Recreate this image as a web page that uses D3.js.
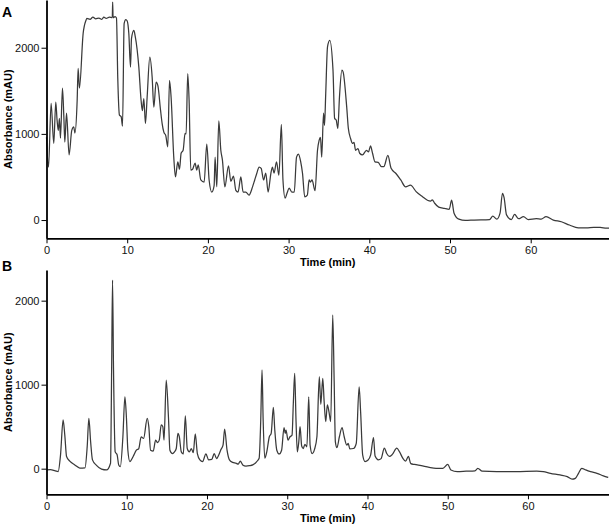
<!DOCTYPE html>
<html><head><meta charset="utf-8">
<script src="https://cdn.jsdelivr.net/npm/d3@7"></script>
<style>
html,body{margin:0;padding:0;background:#fff;}
svg{display:block;font-family:"Liberation Sans",Arial,sans-serif;}
</style></head>
<body><svg id="c" width="609" height="527"></svg>
<script>
// ---- Data ----
const xTicks = [0, 10, 20, 30, 40, 50, 60];
const yTicks = [0, 1000, 2000];
const panelLabels = ["A", "B"];
const xTitle = "Time (min)";
const yTitle = "Absorbance (mAU)";

const timeA = [0.0,0.25,0.57,0.9,1.15,1.31,1.46,1.6,1.73,1.98,2.15,2.27,2.48,2.8,3.13,3.38,3.52,3.8,3.92,4.08,4.54,4.9,5.0,5.4,5.75,6.1,6.5,6.85,7.1,7.4,7.8,8.15,8.2,8.25,8.5,8.67,8.83,9.04,9.25,9.42,9.62,9.83,10.0,10.2,10.41,10.53,10.82,11.0,11.44,11.72,11.88,12.06,12.26,12.47,12.8,13.09,13.3,13.58,13.8,14.13,14.33,14.54,14.78,15.03,15.24,15.44,15.77,15.98,16.27,16.48,16.68,16.93,17.17,17.3,17.5,17.67,17.88,18.1,18.41,18.62,18.8,19.12,19.53,19.86,20.15,20.48,20.77,20.89,21.1,21.35,21.6,21.8,22.1,22.55,22.84,23.17,23.46,23.74,24.08,24.36,24.7,25.1,25.53,25.8,26.05,26.35,26.6,26.9,27.17,27.46,27.8,28.0,28.2,28.5,28.8,29.1,29.3,29.57,29.8,30.06,30.4,30.7,30.98,31.22,31.5,31.72,32.0,32.32,32.54,32.7,32.9,33.28,33.58,33.78,33.95,34.1,34.33,34.45,34.6,34.82,35.1,35.5,35.7,35.9,36.1,36.3,36.6,36.75,37.2,37.4,37.7,37.9,38.1,38.3,38.6,38.8,39.15,39.65,39.9,40.15,40.4,40.7,41.1,41.5,41.8,42.3,42.7,43.3,43.9,44.5,45.1,45.8,46.6,47.2,47.6,47.8,48.1,48.6,49.3,49.9,50.2,50.5,51.1,51.9,53.0,54.9,55.3,55.8,56.2,56.5,56.7,57.0,57.6,58.0,58.5,59.1,59.7,60.7,61.3,61.9,62.8,63.8,64.8,65.9,66.9,67.8,68.6,69.4,69.7];
const absA = [960,615,1355,890,1370,1160,1040,1180,950,1530,1195,905,1240,755,1040,1080,1010,1390,1760,1530,2165,2320,2340,2330,2355,2335,2345,2330,2355,2340,2355,2350,2530,2350,2360,2345,1650,1217,1200,1090,2280,2325,2310,2165,1775,2105,2200,2130,1775,1390,1270,1410,1120,1425,1890,1660,1310,1600,1560,1275,1120,1020,980,850,1620,1425,730,500,675,590,775,810,1005,1000,1700,1390,580,590,660,580,640,465,440,880,465,325,400,730,385,1150,810,695,385,630,450,510,345,325,500,325,325,290,385,465,540,615,600,465,545,325,540,615,545,675,520,1110,465,255,310,370,325,325,730,765,675,545,270,290,465,440,465,340,810,925,960,730,1240,1100,1470,2010,2085,1740,1180,1160,1065,1425,1740,1720,1310,1065,940,890,900,810,830,775,755,810,790,860,775,675,670,620,620,750,600,540,465,385,405,330,270,230,220,235,195,150,135,125,230,80,10,-5,0,5,45,10,80,310,260,60,5,65,15,40,5,15,10,40,0,-20,-58,-90,-90,-85,-85,-95,-95];

const timeB = [0.0,0.5,1.1,1.45,1.75,2.07,2.28,2.5,2.9,3.53,4.15,4.8,5.07,5.28,5.5,5.73,6.23,6.86,7.48,7.98,8.12,8.23,8.35,8.56,8.8,9.0,9.2,9.52,9.77,9.96,10.14,10.39,10.8,11.2,11.5,11.8,12.1,12.55,12.75,12.97,13.3,13.6,13.85,14.05,14.3,14.5,14.65,14.92,15.2,15.38,15.7,15.95,16.17,16.38,16.55,16.8,17.05,17.3,17.54,17.8,18.05,18.29,18.54,18.8,19.12,19.45,19.87,20.2,20.6,20.9,21.2,21.45,21.7,22.0,22.2,22.5,22.8,23.2,23.6,23.9,24.15,24.45,24.86,25.3,25.7,26.2,26.5,26.7,26.86,27.0,27.2,27.45,27.77,28.0,28.27,28.45,28.7,29.0,29.3,29.6,29.75,29.85,30.1,30.35,30.6,30.76,30.93,31.1,31.26,31.45,31.6,31.8,32.0,32.2,32.45,32.68,32.85,33.1,33.4,33.7,34.0,34.18,34.43,34.6,34.8,35.0,35.2,35.42,35.67,35.85,36.0,36.2,36.5,36.83,37.1,37.42,37.6,37.8,38.25,38.6,38.96,39.15,39.4,39.7,40.05,40.4,40.75,40.95,41.35,41.7,42.1,42.4,42.73,43.1,43.65,44.0,44.4,44.75,45.1,45.4,45.85,46.7,47.7,48.55,49.4,50.0,50.4,51.2,52.3,53.4,53.75,54.3,56.1,58.5,61.1,61.9,62.8,64.0,64.9,65.5,65.9,66.3,66.7,67.2,67.8,68.6,69.4,70.0];
const absB = [-15,-12,-27,-35,165,580,400,145,90,45,8,10,260,600,320,105,40,-5,-15,65,1200,2245,1200,200,165,45,25,380,855,610,220,85,145,220,240,380,360,600,500,220,210,340,310,340,520,500,340,1055,610,220,180,200,240,420,380,200,175,630,240,200,240,190,415,180,105,85,175,105,110,180,120,160,220,280,470,220,105,75,65,55,90,45,30,35,45,85,125,580,1175,580,125,200,380,420,730,460,220,175,220,490,420,460,340,380,400,780,1135,560,200,330,500,270,240,290,260,855,280,180,230,380,1095,765,1075,800,560,760,680,560,1830,1040,320,250,380,490,380,280,300,235,240,300,975,670,165,85,100,165,370,150,105,120,245,180,145,170,245,200,125,90,145,60,50,35,15,5,5,50,-15,-35,-30,-25,5,-30,-35,-35,-30,-35,-55,-75,-95,-125,-115,-55,5,-15,-35,-55,-85,-105];

// ---- Drawing ----
const svg = d3.select("#c");
const panels = [
  {label: panelLabels[0], t: timeA, v: absA, xDom:[0,69.7], yDom:[-212,2554], yRange:[238.3,0], labelY:17, titleY:266},
  {label: panelLabels[1], t: timeB, v: absB, xDom:[0,70.1], yDom:[-305,2365], yRange:[494.3,270], labelY:271, titleY:522}
];
const x0 = 46.5, x1 = 609;

panels.forEach(p => {
  const x = d3.scaleLinear().domain(p.xDom).range([x0, x1]);
  const y = d3.scaleLinear().domain(p.yDom).range(p.yRange);
  const g = svg.append("g");

  const data = p.t.map((t,i)=>[t, p.v[i]]);
  g.append("path").datum(data)
    .attr("fill","none").attr("stroke","#3a3a3a").attr("stroke-width",1.25)
    .attr("stroke-linejoin","round")
    .attr("d", d3.line().x(d=>x(d[0])).y(d=>y(d[1])).curve(d3.curveMonotoneX));

  const xa = g.append("g").attr("transform",`translate(0,${p.yRange[0]})`)
    .call(d3.axisBottom(x).tickValues(xTicks).tickFormat(d3.format("d")).tickSize(5).tickSizeOuter(0).tickPadding(3));
  const ya = g.append("g").attr("transform",`translate(${x0},0)`)
    .call(d3.axisLeft(y).tickValues(yTicks).tickFormat(d3.format("d")).tickSize(5).tickSizeOuter(0).tickPadding(2));
  [xa, ya].forEach(a => {
    a.select(".domain").attr("stroke","#000").attr("stroke-width",1.8);
    a.selectAll(".tick line").attr("stroke","#000").attr("stroke-width",1);
    a.selectAll("text").attr("font-size",11).attr("fill","#111")
      .attr("font-family","'Liberation Sans',Arial,sans-serif");
  });

  g.append("text").attr("x",(x0+x1)/2).attr("y",p.titleY)
    .attr("text-anchor","middle").attr("font-size",11).attr("font-weight","bold")
    .text(xTitle);
  const cy = (p.yRange[0]+p.yRange[1])/2;
  g.append("text").attr("transform",`translate(12,${cy}) rotate(-90)`)
    .attr("text-anchor","middle").attr("font-size",11).attr("font-weight","bold")
    .text(yTitle);
  g.append("text").attr("x",2).attr("y",p.labelY)
    .attr("font-size",14).attr("font-weight","bold").text(p.label);
});
</script></body></html>
